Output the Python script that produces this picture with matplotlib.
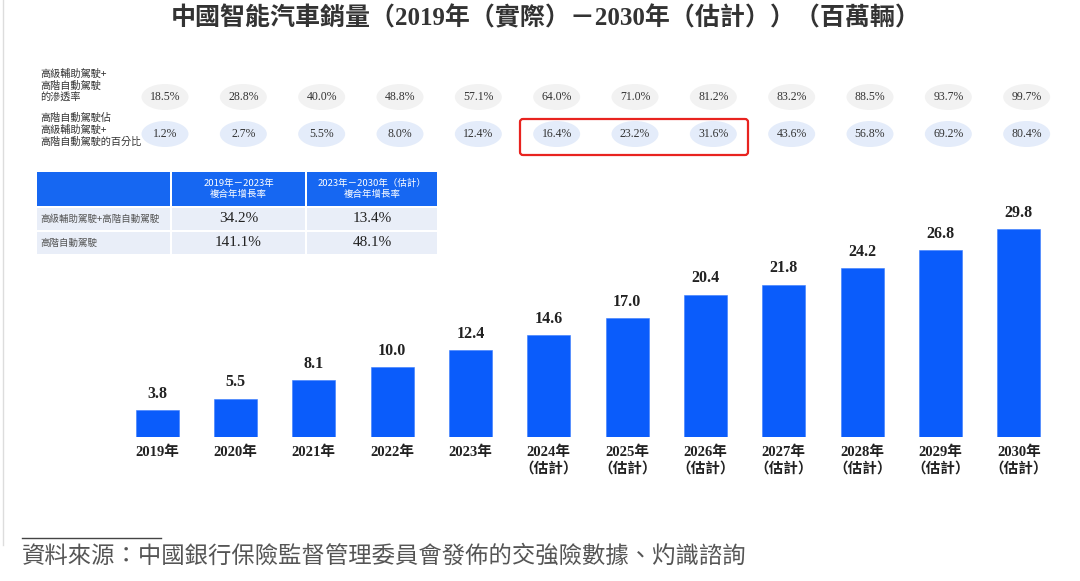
import numpy as np
import matplotlib
matplotlib.use("Agg")
import matplotlib.pyplot as plt
from matplotlib.patches import Ellipse, Rectangle, FancyBboxPatch
from matplotlib.lines import Line2D

plt.rcParams['font.family'] = ['Liberation Serif', 'Noto Sans CJK TC', 'DejaVu Sans']

# data
years = ["2019年", "2020年", "2021年", "2022年", "2023年", "2024年\n（估計）", "2025年\n（估計）",
         "2026年\n（估計）", "2027年\n（估計）", "2028年\n（估計）", "2029年\n（估計）", "2030年\n（估計）"]
sales = [3.8, 5.5, 8.1, 10.0, 12.4, 14.6, 17.0, 20.4, 21.8, 24.2, 26.8, 29.8]
penetration = ["18.5%", "28.8%", "40.0%", "48.8%", "57.1%", "64.0%", "71.0%", "81.2%", "83.2%", "88.5%", "93.7%", "99.7%"]
share_l4 = ["1.2%", "2.7%", "5.5%", "8.0%", "12.4%", "16.4%", "23.2%", "31.6%", "43.6%", "56.8%", "69.2%", "80.4%"]
row_labels = ["高級輔助駕駛+\n高階自動駕駛\n的滲透率", "高階自動駕駛佔\n高級輔助駕駛+\n高階自動駕駛的百分比"]
cagr_header = ["2019年－2023年\n複合年增長率", "2023年－2030年（估計）\n複合年增長率"]
cagr_rows = ["高級輔助駕駛+高階自動駕駛", "高階自動駕駛"]
cagr_values = [["34.2%", "13.4%"], ["141.1%", "48.1%"]]

W, H = 1080, 581
fig = plt.figure(figsize=(W / 100, H / 100), dpi=100)
fig.patch.set_facecolor("white")

# overlay in pixel coords for table / notes
ov = fig.add_axes([0, 0, 1, 1])
ov.set_xlim(0, W)
ov.set_ylim(H, 0)
ov.axis("off")

# main bar axes
ax = fig.add_axes([118 / W, (H - 437) / H, 940 / W, 237 / H])
ax.set_facecolor("none")
x = np.arange(len(sales))
bars = ax.bar(x, sales, width=0.55, color="#0a5cfb", edgecolor="#3a7cff", linewidth=0.4)
ax.set_xlim(-0.5, len(sales) - 0.5)
ax.set_ylim(0, 33.95)
for s in ax.spines.values():
    s.set_visible(False)
ax.set_yticks([])
ax.set_xticks(x)
ax.set_xticklabels(years, fontsize=10.5, fontweight="bold", color="#222222", linespacing=1.25)
ax.tick_params(axis="x", length=0, pad=6)
for lbl in ax.get_xticklabels():
    lbl.set_verticalalignment("top")
for xi, v in zip(x, sales):
    ax.annotate(f"{v:.1f}", (xi, v), xytext=(0, 6), textcoords="offset points",
                ha="center", va="bottom", fontsize=11.5, fontweight="bold", color="#222222")

# percentage rows (x in data coords of the bar axes)
trans = ax.get_xaxis_transform()
row_y = [(437 - 97) / 237, (437 - 134) / 237]
row_fc = ["#f2f2f2", "#e4ecfa"]
for r, vals in enumerate([penetration, share_l4]):
    for xi, v in zip(x, vals):
        ax.add_patch(Ellipse((xi + 0.1, row_y[r]), 0.6, 26 / 237, transform=trans,
                             facecolor=row_fc[r], edgecolor="none", clip_on=False))
        ax.text(xi + 0.1, row_y[r], v, transform=trans, ha="center", va="center",
                fontsize=8.5, color="#333333", clip_on=False)

# red highlight box
ov.add_patch(FancyBboxPatch((520, 119), 228, 36, boxstyle="round,pad=0,rounding_size=3",
                            facecolor="none", edgecolor="#e8231f", linewidth=1.6))

# row labels
ov.text(40, 69, row_labels[0], ha="left", va="top", fontsize=7.3, color="#333333",
        family="Noto Sans CJK TC", linespacing=1.2)
ov.text(40, 113, row_labels[1], ha="left", va="top", fontsize=7.3, color="#333333",
        family="Noto Sans CJK TC", linespacing=1.2)

# CAGR table
cols = [(37, 170), (172, 305), (307, 437)]
rows = [(172, 206), (208, 230), (232, 254)]
blue = "#1667f2"
for ci, (x0, x1) in enumerate(cols):
    ov.add_patch(Rectangle((x0, rows[0][0]), x1 - x0, rows[0][1] - rows[0][0],
                           facecolor=blue, edgecolor="none"))
    for ri in (1, 2):
        y0, y1 = rows[ri]
        ov.add_patch(Rectangle((x0, y0), x1 - x0, y1 - y0, facecolor="#e9eef8", edgecolor="none"))
for ci, txt in enumerate(cagr_header):
    x0, x1 = cols[ci + 1]
    ov.text((x0 + x1) / 2, 189, txt, ha="center", va="center", fontsize=6.8, color="white",
            family="Noto Sans CJK TC", linespacing=1.2)
for ri, lab in enumerate(cagr_rows):
    y0, y1 = rows[ri + 1]
    ov.text(40, (y0 + y1) / 2, lab, ha="left", va="center", fontsize=6.8, color="#555555",
            family="Noto Sans CJK TC")
    for ci, v in enumerate(cagr_values[ri]):
        x0, x1 = cols[ci + 1]
        ov.text((x0 + x1) / 2, (y0 + y1) / 2, v, ha="center", va="center", fontsize=11,
                color="#222222")

# title
ov.text(546, 18, "中國智能汽車銷量（2019年（實際）－2030年（估計））（百萬輛）", ha="center", va="center",
        fontsize=18, fontweight="bold", color="#333333")

# source note
ov.add_line(Line2D([22, 161], [538, 538], color="#444444", linewidth=1))
ov.text(22, 556, "資料來源：中國銀行保險監督管理委員會發佈的交強險數據、灼識諮詢", ha="left", va="center",
        fontsize=16.8, color="#555555", family="Noto Sans CJK TC", fontstyle="italic")

# faint left border
ov.add_line(Line2D([3, 3], [0, 545], color="#dddddd", linewidth=1))

fig.savefig("out.png", dpi=100)
